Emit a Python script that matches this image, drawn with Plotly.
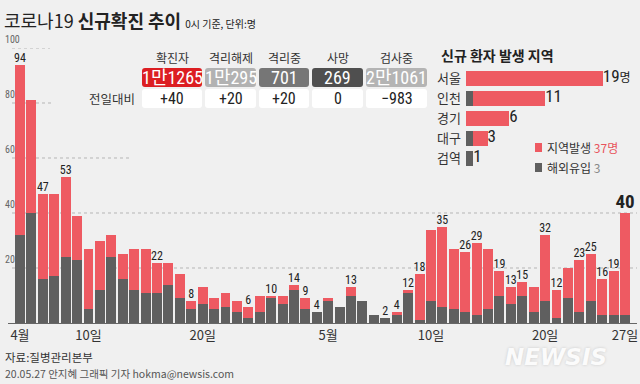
import plotly.graph_objects as go

# ---------------- data ----------------
dates = [f"4/{d}" for d in range(4, 31)] + [f"5/{d}" for d in range(1, 28)]
overseas = [32, 40, 16, 17, 24, 23, 5, 12, 24, 16, 12, 11, 11, 14, 9, 5, 7, 5, 6, 4, 2, 4, 9, 7, 12, 5, 4,
            8, 6, 10, 8, 3, 2, 3, 11, 1, 8, 6, 5, 4, 3, 5, 10, 7, 10, 4, 8, 2, 9, 4, 8, 3, 3, 3]
local = [62, 41, 31, 30, 29, 16, 22, 18, 8, 9, 15, 16, 11, 8, 9, 3, 6, 4, 5, 4, 4, 6, 1, 3, 2, 4, 0,
         1, 0, 3, 0, 0, 0, 1, 1, 17, 26, 29, 22, 22, 26, 22, 9, 6, 5, 9, 24, 10, 11, 19, 17, 13, 16, 37]
labeled = ["4/4", "4/6", "4/8", "4/16", "4/19", "4/24", "4/26", "4/28", "4/29", "4/30", "5/3", "5/6",
           "5/7", "5/8", "5/9", "5/11", "5/13", "5/14", "5/16", "5/17", "5/18", "5/20", "5/21", "5/23",
           "5/24", "5/25", "5/26", "5/27"]
tick_vals = ["4/4", "4/10", "4/20", "5/1", "5/10", "5/20", "5/27"]
tick_text = ["4월", "10일", "20일", "5월", "10일", "20일", "27일"]
y_ticks = [20, 40, 60, 80, 100]

stat_headers = ["확진자", "격리해제", "격리중", "사망", "검사중"]
stat_values = ["1만1265", "1만295", "701", "269", "2만1061"]
stat_change = ["+40", "+20", "+20", "0", "−983"]

regions = ["서울", "인천", "경기", "대구", "검역"]
region_local = [19, 10, 6, 2, 0]
region_overseas = [0, 1, 0, 1, 1]
region_labels = ["19<span style='font-size:12px'>명</span>", "11", "6", "3", "1"]

# ---------------- style ----------------
BG = "#f0f0f0"
RED = "#ee5a62"
GREY = "#5f5f5f"
NARROW = "Liberation Sans Narrow, Roboto Condensed, DejaVu Sans Condensed, Roboto, Noto Sans CJK KR"
KR = "Noto Sans CJK KR, Noto Sans, sans-serif"
W, H = 640, 384


def px(x):
    return x / W


def py(y):
    return 1 - y / H


totals = [a + b for a, b in zip(overseas, local)]
lab_y = [totals[dates.index(d)] for d in labeled]
lab_text = [str(v) if d != "5/27" else f"<b>{v}</b>" for d, v in zip(labeled, lab_y)]
lab_size = [12 if d != "5/27" else 19 for d in labeled]

fig = go.Figure()
fig.add_trace(go.Bar(x=dates, y=overseas, marker_color=GREY, width=0.87, marker_line_width=0,
                     hoverinfo="skip"))
fig.add_trace(go.Bar(x=dates, y=local, marker_color=RED, width=0.87, marker_line_width=0,
                     hoverinfo="skip"))
fig.add_trace(go.Scatter(x=labeled, y=lab_y, mode="text", text=lab_text, textposition="top center",
                         textfont=dict(family=NARROW, size=lab_size, color="#222"),
                         cliponaxis=False, hoverinfo="skip"))

# region chart
fig.add_trace(go.Bar(y=regions, x=region_overseas, orientation="h", marker_color=GREY, width=0.75,
                     marker_line_width=0, xaxis="x2", yaxis="y2", hoverinfo="skip"))
fig.add_trace(go.Bar(y=regions, x=region_local, orientation="h", marker_color=RED, width=0.75,
                     marker_line_width=0, xaxis="x2", yaxis="y2", hoverinfo="skip"))
fig.add_trace(go.Scatter(y=regions, x=[a + b for a, b in zip(region_local, region_overseas)],
                         mode="text", text=region_labels, textposition="middle right",
                         textfont=dict(family=NARROW, size=17, color="#222"),
                         xaxis="x2", yaxis="y2", cliponaxis=False, hoverinfo="skip"))

shapes = []
annotations = []

# gridlines
grid_ext = {20: 637, 40: 637, 60: 130, 80: 53, 100: 50}
for v in y_ticks:
    shapes.append(dict(type="line", xref="paper", yref="y", x0=px(12), x1=px(grid_ext[v]), y0=v, y1=v,
                       line=dict(color="#b5b5b5", width=1, dash="3px,3px"), layer="below"))
    annotations.append(dict(xref="paper", yref="y", x=px(3), y=v, text=str(v), showarrow=False,
                            xanchor="left", yanchor="bottom", yshift=1,
                            font=dict(family=NARROW, size=10, color="#666")))

# title
annotations.append(dict(xref="paper", yref="paper", x=px(2), y=py(20), xanchor="left", yanchor="middle",
                        showarrow=False,
                        text="코로나19 <b>신규확진 추이</b> <span style='font-size:10px'>0시 기준, 단위:명</span>",
                        font=dict(family=KR, size=18, color="#222")))

# stat table
box_x = [(142, 202), (205, 256), (259, 309), (312, 363), (366, 427)]
box_col = ["#dc1e22", "#b2b2b2", "#767676", "#4f4f4f", "#b4b4b4"]


def rrect(x0, y0, x1, y1, r=3):
    ax0, ax1 = px(x0), px(x1)
    ay0, ay1 = py(y1), py(y0)  # bottom, top
    rx, ry = r / W, r / H
    return (f"M {ax0+rx},{ay0} L {ax1-rx},{ay0} Q {ax1},{ay0} {ax1},{ay0+ry} "
            f"L {ax1},{ay1-ry} Q {ax1},{ay1} {ax1-rx},{ay1} L {ax0+rx},{ay1} "
            f"Q {ax0},{ay1} {ax0},{ay1-ry} L {ax0},{ay0+ry} Q {ax0},{ay0} {ax0+rx},{ay0} Z")


for (x0, x1), col, hd, val, chg in zip(box_x, box_col, stat_headers, stat_values, stat_change):
    cx = (x0 + x1) / 2
    shapes.append(dict(type="path", xref="paper", yref="paper", path=rrect(x0, 68, x1, 87),
                       fillcolor=col, line_width=0))
    shapes.append(dict(type="path", xref="paper", yref="paper", path=rrect(x0, 89, x1, 108),
                       fillcolor="#ffffff", line_width=0))
    annotations.append(dict(xref="paper", yref="paper", x=px(cx), y=py(57), text=hd, showarrow=False,
                            xanchor="center", yanchor="middle", font=dict(family=KR, size=12, color="#333")))
    annotations.append(dict(xref="paper", yref="paper", x=px(cx), y=py(77.5), text=val, showarrow=False,
                            xanchor="center", yanchor="middle",
                            font=dict(family=NARROW, size=18, color="#ffffff")))
    annotations.append(dict(xref="paper", yref="paper", x=px(cx), y=py(98.5), text=chg, showarrow=False,
                            xanchor="center", yanchor="middle",
                            font=dict(family=NARROW, size=16, color="#222")))
annotations.append(dict(xref="paper", yref="paper", x=px(137), y=py(98.5), text="전일대비", showarrow=False,
                        xanchor="right", yanchor="middle", font=dict(family=KR, size=12.5, color="#333")))

# region panel
annotations.append(dict(xref="paper", yref="paper", x=px(439), y=py(55), text="<b>신규 환자 발생 지역</b>",
                        showarrow=False, xanchor="left", yanchor="middle",
                        font=dict(family=KR, size=14, color="#222")))
for yy, col, txt in [(147.5, RED, "지역발생 <span style='color:#e8545c'>37명</span>"),
                     (167.5, GREY, "해외유입 <span style='color:#888'>3</span>")]:
    shapes.append(dict(type="rect", xref="paper", yref="paper", x0=px(535), x1=px(542),
                       y0=py(yy + 4.5), y1=py(yy - 4.5), fillcolor=col, line_width=0))
    annotations.append(dict(xref="paper", yref="paper", x=px(545), y=py(yy), text=txt, showarrow=False,
                            xanchor="left", yanchor="middle", font=dict(family=KR, size=12, color="#333")))

# footer
annotations.append(dict(xref="paper", yref="paper", x=px(3), y=py(357), text="자료:질병관리본부",
                        showarrow=False, xanchor="left", yanchor="middle",
                        font=dict(family=KR, size=11.5, color="#333")))
annotations.append(dict(xref="paper", yref="paper", x=px(3), y=py(373),
                        text="20.05.27 안지혜 그래픽 기자 hokma@newsis.com",
                        showarrow=False, xanchor="left", yanchor="middle",
                        font=dict(family=KR, size=10.5, color="#555")))
annotations.append(dict(xref="paper", yref="paper", x=px(556), y=py(357), text="<b><i>NEWSIS</i></b>",
                        showarrow=False, xanchor="center", yanchor="middle",
                        font=dict(family="DejaVu Sans, sans-serif", size=23, color="#fbfbfb",
                                  shadow="0px 0px 3px #c8c8c8")))

fig.update_layout(
    width=W, height=H, margin=dict(l=0, r=0, t=0, b=0),
    paper_bgcolor=BG, plot_bgcolor="rgba(0,0,0,0)",
    barmode="stack", showlegend=False,
    shapes=shapes, annotations=annotations,
    xaxis=dict(domain=[px(8), px(637)], type="category", categoryorder="array", categoryarray=dates,
               range=[-1.051, 54.05], tickmode="array", tickvals=tick_vals, ticktext=tick_text,
               ticks="", showgrid=False, zeroline=False, showline=True, linecolor="#666", linewidth=1,
               tickfont=dict(family=KR, size=13, color="#333"), fixedrange=True),
    yaxis=dict(domain=[py(323), py(48)], range=[0, 100], showticklabels=False, showgrid=False,
               zeroline=False, fixedrange=True),
    xaxis2=dict(domain=[px(466), 1], range=[0, 24.17], anchor="y2", showticklabels=False,
                showgrid=False, zeroline=False, fixedrange=True),
    yaxis2=dict(domain=[py(168), py(68)], anchor="x2", type="category", categoryorder="array",
                categoryarray=regions, autorange="reversed", showgrid=False, zeroline=False,
                ticks="", ticklabelstandoff=4, tickfont=dict(family=KR, size=13, color="#333"),
                fixedrange=True),
)

fig.write_html("out.html", config={"displayModeBar": False},
               post_script="document.body.style.margin='0';document.body.style.overflow='hidden';"
                           "document.body.style.background='#f0f0f0';")
